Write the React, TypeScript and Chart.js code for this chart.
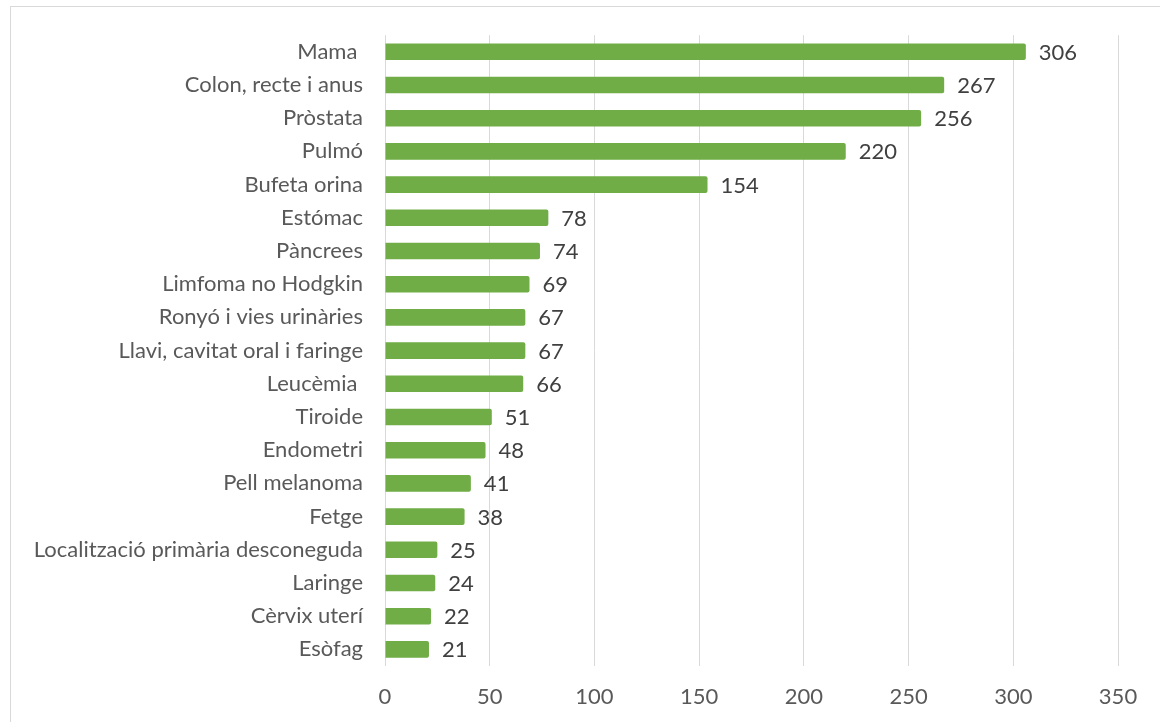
import React, { useEffect, useRef } from "react";
import { Chart, registerables } from "chart.js";

Chart.register(...registerables);

const categories: string[] = [
  "Mama ",
  "Colon, recte i anus",
  "Pròstata",
  "Pulmó",
  "Bufeta orina",
  "Estómac",
  "Pàncrees",
  "Limfoma no Hodgkin",
  "Ronyó i vies urinàries",
  "Llavi, cavitat oral i faringe",
  "Leucèmia ",
  "Tiroide",
  "Endometri",
  "Pell melanoma",
  "Fetge",
  "Localització primària desconeguda",
  "Laringe",
  "Cèrvix uterí",
  "Esòfag",
];

const values: number[] = [306, 267, 256, 220, 154, 78, 74, 69, 67, 67, 66, 51, 48, 41, 38, 25, 24, 22, 21];

const xMin = 0;
const xMax = 350;
const xStep = 50;

const FONT_FAMILY = "Lato, 'Open Sans', sans-serif";
const FONT_SIZE = 22;

export default function App() {
  const canvasRef = useRef<HTMLCanvasElement | null>(null);

  useEffect(() => {
    document.body.style.margin = "0";
    const canvas = canvasRef.current;
    if (!canvas) return;

    const dataLabelPlugin = {
      id: "dataLabels",
      afterDatasetsDraw(chart: any) {
        const ctx = chart.ctx;
        const meta = chart.getDatasetMeta(0);
        ctx.save();
        ctx.font = `${FONT_SIZE}px ${FONT_FAMILY}`;
        ctx.fillStyle = "#404040";
        ctx.textAlign = "left";
        ctx.textBaseline = "middle";
        meta.data.forEach((bar: any, i: number) => {
          ctx.fillText(String(values[i]), bar.x + 13, bar.y + 1);
        });
        ctx.restore();
      },
    };

    const chart = new Chart(canvas, {
      type: "bar",
      data: {
        labels: categories,
        datasets: [
          {
            data: values,
            backgroundColor: "#70AD47",
            borderRadius: 2,
            borderSkipped: "start",
            barPercentage: 0.5,
            categoryPercentage: 1,
          },
        ],
      },
      options: {
        indexAxis: "y",
        responsive: false,
        animation: false,
        layout: { padding: { top: 35, right: 42, left: 0, bottom: 0 } },
        plugins: {
          legend: { display: false },
          tooltip: { enabled: false },
        },
        scales: {
          x: {
            min: xMin,
            max: xMax,
            ticks: {
              stepSize: xStep,
              color: "#595959",
              font: { family: FONT_FAMILY, size: FONT_SIZE },
              padding: 18,
            },
            grid: { color: "#d9d9d9", lineWidth: 1, drawTicks: false },
            border: { display: false },
            afterFit(scale: any) {
              scale.height = 56;
            },
          },
          y: {
            ticks: {
              color: "#595959",
              font: { family: FONT_FAMILY, size: FONT_SIZE },
              padding: 22,
              autoSkip: false,
            },
            grid: { display: false, drawTicks: false },
            border: { display: false },
            afterFit(scale: any) {
              scale.width = 385;
            },
          },
        },
      },
      plugins: [dataLabelPlugin],
    });

    return () => {
      chart.destroy();
    };
  }, []);

  return (
    <div style={{ position: "fixed", left: 0, top: 0, width: 1160, height: 722, overflow: "hidden", background: "#fff" }}>
      <div
        style={{
          position: "absolute",
          left: 10,
          top: 6,
          width: 1300,
          height: 900,
          border: "1px solid #d9d9d9",
        }}
      />
      <canvas
        ref={canvasRef}
        width={1160}
        height={722}
        style={{ position: "absolute", left: 0, top: 0, width: 1160, height: 722 }}
      />
    </div>
  );
}
